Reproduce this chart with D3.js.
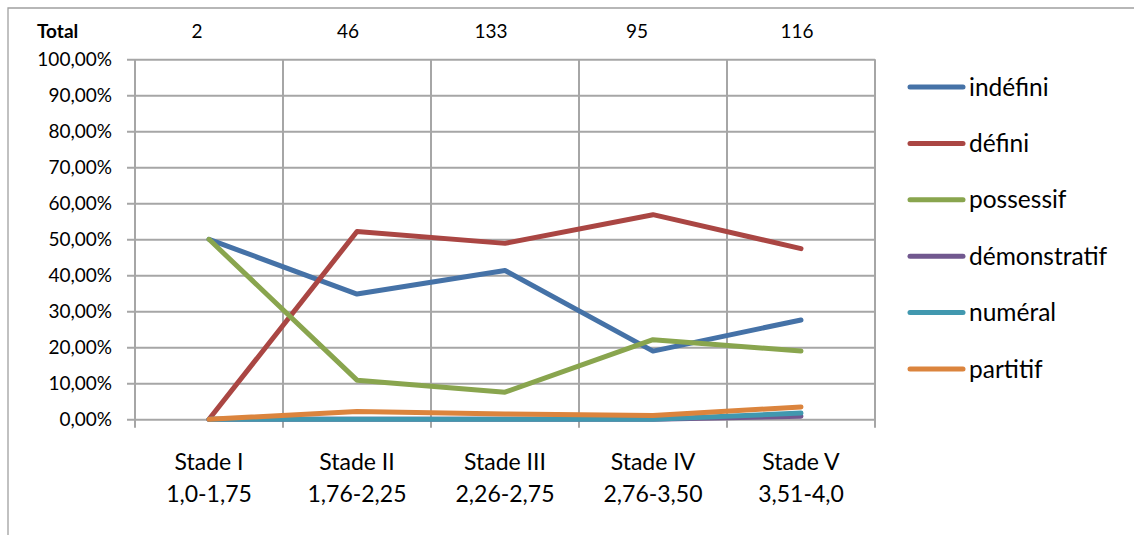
<!DOCTYPE html>
<html>
<head>
<meta charset="utf-8">
<script src="https://cdn.jsdelivr.net/npm/d3@7"></script>
<style>
  html, body { margin: 0; padding: 0; background: #fff; }
  svg { display: block; }
  text { font-family: Lato, "Open Sans", sans-serif; fill: #000; }
</style>
</head>
<body>
<svg id="chart" width="1134" height="535"></svg>
<script>
// Stages of acquisition and their score ranges
const stages = ["Stade I", "Stade II", "Stade III", "Stade IV", "Stade V"];
const ranges = ["1,0-1,75", "1,76-2,25", "2,26-2,75", "2,76-3,50", "3,51-4,0"];
// Number of noun phrases per stage
const totals = [2, 46, 133, 95, 116];

// Share of each determiner type per stage (%)
const indefini     = [50.00, 34.78, 41.35, 18.95, 27.59];
const defini       = [0.00, 52.17, 48.87, 56.84, 47.41];
const possessif    = [50.00, 10.87, 7.52, 22.11, 18.97];
const demonstratif = [0.00, 0.00, 0.00, 0.00, 0.86];
const numeral      = [0.00, 0.00, 0.00, 0.00, 1.72];
const partitif     = [0.00, 2.17, 1.50, 1.05, 3.45];

const seriesNames = ["indéfini", "défini", "possessif", "démonstratif", "numéral", "partitif"];
const seriesValues = [indefini, defini, possessif, demonstratif, numeral, partitif];
const yTicks = [0, 10, 20, 30, 40, 50, 60, 70, 80, 90, 100];

// Styling
const colors = ["#4572A7", "#AA4643", "#89A54E", "#71588F", "#4198AF", "#DB843D"];
const gridColor = "#a6a6a6";
// Centres of the spreadsheet cells holding the totals row
const totalCellX = [197, 348, 491, 637, 797];

const svg = d3.select("#chart");
const plot = { left: 135, right: 875, top: 59.3, bottom: 419.3 };

const x = d3.scaleBand().domain(stages).range([plot.left, plot.right]).paddingInner(0).paddingOuter(0);
const y = d3.scaleLinear().domain([0, 100]).range([plot.bottom, plot.top]);

const frFmt = d3.formatLocale({ decimal: ",", thousands: " ", grouping: [3], currency: ["", " €"] }).format(".2f");

// Outer frame (top and left edges)
svg.append("path")
  .attr("d", `M8,535 L8,8 L1134,8`)
  .attr("fill", "none")
  .attr("stroke", "#a0a0a0")
  .attr("stroke-width", 1.3);

// Horizontal gridlines and y labels
const yAxis = d3.axisLeft(y)
  .tickValues(yTicks)
  .tickSize(plot.right - plot.left + 8)
  .tickPadding(15)
  .tickFormat(d => frFmt(d) + "%");

const gy = svg.append("g")
  .attr("transform", `translate(${plot.right},0)`)
  .call(yAxis);
gy.select(".domain").remove();
gy.selectAll(".tick line").attr("stroke", gridColor).attr("stroke-width", 2);
gy.selectAll(".tick text")
  .style("font-size", "19px")
  .style("font-family", "Lato, sans-serif")
  .attr("fill", "#000");

// Vertical gridlines at category boundaries
const bounds = d3.range(stages.length + 1).map(i => plot.left + i * x.step());
svg.append("g").selectAll("line")
  .data(bounds)
  .join("line")
  .attr("x1", d => d).attr("x2", d => d)
  .attr("y1", plot.top).attr("y2", plot.bottom + 8.5)
  .attr("stroke", gridColor)
  .attr("stroke-width", 2);

// Category labels (two lines)
const xl = svg.append("g").selectAll("text")
  .data(stages)
  .join("text")
  .attr("text-anchor", "middle")
  .style("font-size", "23px");
xl.append("tspan")
  .attr("x", d => x(d) + x.bandwidth() / 2)
  .attr("y", 470)
  .text(d => d);
xl.append("tspan")
  .attr("x", d => x(d) + x.bandwidth() / 2)
  .attr("y", 502)
  .text((d, i) => ranges[i]);

// Totals row
svg.append("text")
  .attr("x", 37).attr("y", 38)
  .style("font-size", "19px")
  .style("font-weight", "bold")
  .text("Total");
svg.append("g").selectAll("text")
  .data(totals)
  .join("text")
  .attr("x", (d, i) => totalCellX[i])
  .attr("y", 38)
  .attr("text-anchor", "middle")
  .style("font-size", "19px")
  .text(d => d);

// Series lines
const line = d3.line()
  .x((d, i) => x(stages[i]) + x.bandwidth() / 2)
  .y(d => y(d));

svg.append("g").selectAll("path")
  .data(seriesValues)
  .join("path")
  .attr("d", d => line(d))
  .attr("fill", "none")
  .attr("stroke", (d, i) => colors[i])
  .attr("stroke-width", 5)
  .attr("stroke-linejoin", "round")
  .attr("stroke-linecap", "round");

// Legend
const legend = svg.append("g").selectAll("g")
  .data(seriesNames)
  .join("g")
  .attr("transform", (d, i) => `translate(910, ${87 + i * 56.4})`);
legend.append("line")
  .attr("x1", 0).attr("x2", 53)
  .attr("y1", 0).attr("y2", 0)
  .attr("stroke", (d, i) => colors[i])
  .attr("stroke-width", 5)
  .attr("stroke-linecap", "round");
legend.append("text")
  .attr("x", 59).attr("y", 0)
  .attr("dy", "0.35em")
  .style("font-size", "24.5px")
  .text(d => d);
</script>
</body>
</html>
